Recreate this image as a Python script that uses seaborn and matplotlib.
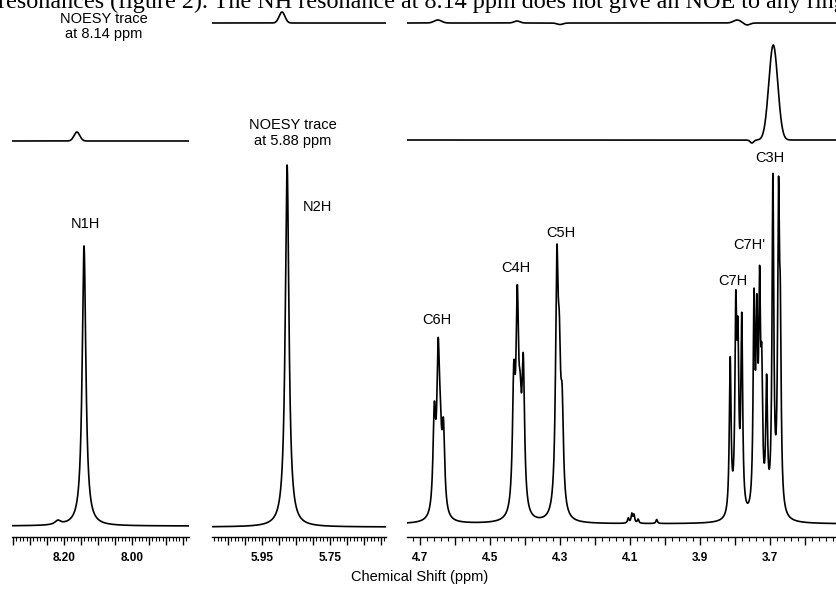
import numpy as np
import pandas as pd
import matplotlib
matplotlib.use("Agg")
import matplotlib.pyplot as plt
import seaborn as sns
from matplotlib.ticker import MultipleLocator, FuncFormatter

# --- peak lists (ppm, height in px above baseline, FWHM in ppm) ---
n1h_ppm = [8.218, 8.141]
n1h_height = [4, 280]
n1h_width = [0.020, 0.013]

n2h_ppm = [5.876]
n2h_height = [362]
n2h_width = [0.013]

ring_ppm = [4.659, 4.648, 4.642, 4.633,          # C6H
            4.432, 4.422, 4.414, 4.405,          # C4H
            4.309, 4.302, 4.294,                 # C5H
            4.105, 4.095, 4.089, 4.077, 4.024,   # small impurity lines
            3.814, 3.798, 3.792, 3.781,          # C7H
            3.746, 3.738, 3.730, 3.724, 3.710,   # C7H'
            3.692, 3.676, 3.671]                 # C3H
ring_height = [95, 146, 55, 80,
               122, 192, 70, 140,
               235, 120, 90,
               5, 9, 8, 4, 4,
               155, 190, 150, 190,
               200, 170, 200, 117, 124,
               330, 290, 160]
ring_width = ([0.009] * 11 + [0.005] * 5 + [0.006] * 12)

# NOESY trace at 8.14 ppm
noe814_p1_ppm = [8.162]
noe814_p1_height = [9]
noe814_p1_width = [0.02]
noe814_p3_ppm = [3.691, 3.752]
noe814_p3_height = [95, -3]
noe814_p3_width = [0.030, 0.012]

# NOESY trace at 5.88 ppm
noe588_p2_ppm = [5.891]
noe588_p2_height = [11]
noe588_p2_width = [0.020]
noe588_p3_ppm = [4.649, 4.423, 4.300, 3.794, 3.766]
noe588_p3_height = [3, 2, -1.5, 3, -2]
noe588_p3_width = [0.025, 0.02, 0.02, 0.025, 0.02]

W, H = 837, 589
AX_BOTTOM = 537  # pixel row of the ppm scale


def lorentz(x, ppm, height, width):
    y = np.zeros_like(x)
    for c, h, w in zip(ppm, height, width):
        g = w / 2
        y += h * g**2 / ((x - c)**2 + g**2)
    return y


def gauss(x, ppm, height, width):
    y = np.zeros_like(x)
    for c, h, w in zip(ppm, height, width):
        s = w / 2.3548
        y += h * np.exp(-0.5 * ((x - c) / s)**2)
    return y


def draw(ax, x, y, row):
    df = pd.DataFrame({"ppm": x, "signal": y + (AX_BOTTOM - row)})
    sns.lineplot(data=df, x="ppm", y="signal", ax=ax, color="black",
                 linewidth=1.2, estimator=None, sort=False, legend=False)


def fig_text(fig, px, py, s, **kw):
    fig.text(px / W, 1 - py / H, s, **kw)


sns.set_style("white")
plt.rcParams["font.family"] = ["Liberation Sans", "DejaVu Sans"]
plt.rcParams["text.color"] = "black"
plt.rcParams["xtick.color"] = "black"
plt.rcParams["axes.edgecolor"] = "black"

fig = plt.figure(figsize=(W / 100, H / 100), dpi=100)

panels = [
    # px left, px right, ppm left, ppm right, major step, minor step, labels
    (12, 189, 8.353, 7.832, 0.05, 0.01, ["8.20", "8.00"]),
    (212, 386, 6.097, 5.585, 0.05, 0.01, ["5.95", "5.75"]),
    (407, 837, 4.737, 3.509, 0.1, 0.02, ["4.7", "4.5", "4.3", "4.1", "3.9", "3.7"]),
]
axes = []
for x0, x1, l, r, major, minor, labels in panels:
    ax = fig.add_axes([x0 / W, (H - AX_BOTTOM) / H, (x1 - x0) / W, AX_BOTTOM / H])
    ax.set_xlim(l, r)
    ax.set_ylim(0, AX_BOTTOM)
    for s in ["top", "left", "right"]:
        ax.spines[s].set_visible(False)
    ax.spines["bottom"].set_linewidth(1.0)
    ax.set_yticks([])
    ax.xaxis.set_major_locator(MultipleLocator(major))
    ax.xaxis.set_minor_locator(MultipleLocator(minor))
    ax.xaxis.set_major_formatter(FuncFormatter(
        lambda v, p, labs=labels: next((t for t in labs if abs(float(t) - v) < 1e-6), "")))
    ax.tick_params(axis="x", which="major", direction="out", length=6, width=1.0,
                   pad=5, labelsize=8.5, bottom=True)
    ax.tick_params(axis="x", which="minor", direction="out", length=3, width=0.8, bottom=True)
    for t in ax.get_xticklabels():
        t.set_fontweight("bold")
    axes.append(ax)

ax1, ax2, ax3 = axes

x1g = np.linspace(8.353, 7.832, 3000)
x2g = np.linspace(6.097, 5.585, 3000)
x3g = np.linspace(4.737, 3.509, 6000)

draw(ax1, x1g, lorentz(x1g, n1h_ppm, n1h_height, n1h_width), 526)
draw(ax1, x1g, gauss(x1g, noe814_p1_ppm, noe814_p1_height, noe814_p1_width), 141)

draw(ax2, x2g, lorentz(x2g, n2h_ppm, n2h_height, n2h_width), 527)
draw(ax2, x2g, gauss(x2g, noe588_p2_ppm, noe588_p2_height, noe588_p2_width), 23)

draw(ax3, x3g, lorentz(x3g, ring_ppm, ring_height, ring_width), 524)
draw(ax3, x3g, gauss(x3g, noe814_p3_ppm, noe814_p3_height, noe814_p3_width), 140)
draw(ax3, x3g, gauss(x3g, noe588_p3_ppm, noe588_p3_height, noe588_p3_width), 23)
for ax in axes:
    ax.set_xlabel("")
    ax.set_ylabel("")
    for t in ax.get_xticklabels():
        t.set_fontweight("bold")

# running text of the page, cut at the top edge
fig.text(-0.002, 1 - 8 / H, "resonances (figure 2). The NH resonance at 8.14 ppm does not give an NOE to any ring",
         family="Liberation Serif", fontsize=17.4, ha="left", va="baseline")

lab = dict(fontsize=10.5, ha="center", va="center")
fig_text(fig, 104, 19, "NOESY trace", **lab)
fig_text(fig, 104, 34, "at 8.14 ppm", **lab)
fig_text(fig, 293, 125, "NOESY trace", **lab)
fig_text(fig, 293, 141, "at 5.88 ppm", **lab)
fig_text(fig, 85, 224, "N1H", **lab)
fig_text(fig, 317, 207, "N2H", **lab)
fig_text(fig, 437, 320, "C6H", **lab)
fig_text(fig, 516, 268, "C4H", **lab)
fig_text(fig, 561, 233, "C5H", **lab)
fig_text(fig, 733, 281, "C7H", **lab)
fig_text(fig, 749, 245, "C7H'", **lab)
fig_text(fig, 770, 158, "C3H", **lab)
fig_text(fig, 420, 577, "Chemical Shift (ppm)", fontsize=10.5, ha="center", va="center")

fig.savefig("out.png", dpi=100)
